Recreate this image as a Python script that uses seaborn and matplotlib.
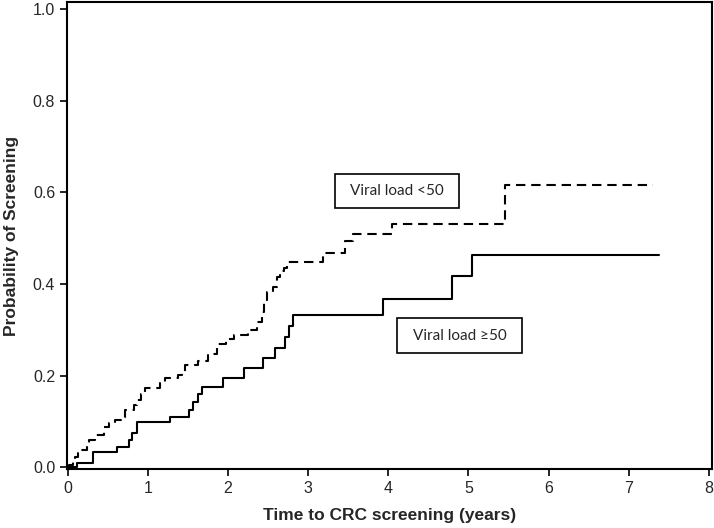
import matplotlib
matplotlib.use("Agg")
import matplotlib.pyplot as plt
from matplotlib.patches import Rectangle
import seaborn as sns
import pandas as pd

# Kaplan-Meier style step data
low_time = [0, 0.02, 0.06, 0.09, 0.13, 0.16, 0.24, 0.26, 0.34, 0.45, 0.51, 0.59, 0.67,
            0.72, 0.83, 0.86, 0.91, 0.96, 1.15, 1.21, 1.38, 1.42, 1.46, 1.63, 1.75, 1.86,
            1.98, 2.08, 2.25, 2.36, 2.42, 2.45, 2.49, 2.56, 2.61, 2.65, 2.70, 2.73, 3.18,
            3.46, 3.56, 4.04, 5.46, 7.30]
low_prob = [0, 0.004, 0.013, 0.022, 0.030, 0.037, 0.048, 0.059, 0.070, 0.088, 0.097, 0.103,
            0.109, 0.124, 0.135, 0.146, 0.160, 0.172, 0.183, 0.194, 0.201, 0.207, 0.224, 0.231,
            0.248, 0.269, 0.280, 0.288, 0.299, 0.317, 0.339, 0.365, 0.383, 0.393, 0.415, 0.427,
            0.435, 0.448, 0.468, 0.493, 0.508, 0.530, 0.616, 0.616]

high_time = [0, 0.12, 0.32, 0.62, 0.76, 0.80, 0.86, 1.27, 1.51, 1.56, 1.62, 1.68, 1.94,
             2.20, 2.43, 2.59, 2.71, 2.76, 2.81, 3.93, 4.79, 5.04, 7.38]
high_prob = [0, 0.010, 0.034, 0.043, 0.059, 0.074, 0.098, 0.109, 0.124, 0.142, 0.159, 0.175,
             0.195, 0.217, 0.238, 0.260, 0.283, 0.308, 0.333, 0.366, 0.417, 0.463, 0.463]

groups = ["Viral load <50", "Viral load \u226550"]
x_ticks = [0, 1, 2, 3, 4, 5, 6, 7, 8]
y_ticks = [0.0, 0.2, 0.4, 0.6, 0.8, 1.0]

df = pd.concat([
    pd.DataFrame({"time": low_time, "prob": low_prob, "group": groups[0]}),
    pd.DataFrame({"time": high_time, "prob": high_prob, "group": groups[1]}),
], ignore_index=True)

sns.set_style("white")
plt.rcParams["font.family"] = ["Liberation Sans", "DejaVu Sans"]

fig = plt.figure(figsize=(7.14, 5.28), dpi=100)
W, H = 714, 528
ax = fig.add_axes([67 / W, (H - 469) / H, (712 - 67) / W, (469 - 2) / H])

sns.lineplot(data=df, x="time", y="prob", style="group", style_order=groups,
             dashes={groups[0]: (4.5, 2.8), groups[1]: ""},
             color="black", linewidth=1.5, drawstyle="steps-post",
             estimator=None, sort=False, legend=False, ax=ax)

ax.set_xlim(-0.01, 8.04)
ax.set_ylim(-0.004, 1.015)
ax.set_xticks(x_ticks)
ax.set_xticklabels([str(v) for v in x_ticks])
ax.set_yticks(y_ticks)
ax.set_yticklabels([f"{v:.1f}" for v in y_ticks])
ax.tick_params(direction="out", length=5, width=1.2, color="black",
               labelsize=11.5, pad=3.5, bottom=True, left=True)
for s in ax.spines.values():
    s.set_color("black")
    s.set_linewidth(1.5)

ax.set_xlabel("Time to CRC screening (years)", fontsize=12.5, fontweight="bold", labelpad=9)
ax.set_ylabel("Probability of Screening", fontsize=12.5, fontweight="bold", labelpad=10)

# annotation boxes (pixel geometry converted to data coordinates)
def px2data(xp, yp):
    return ((xp - 68) / 80.1, (467 - yp) / 458)

for label, (x0p, y0p, x1p, y1p) in zip(groups, [(335, 174, 459, 208), (397, 318, 522, 353)]):
    xa, ya = px2data(x0p, y1p)
    xb, yb = px2data(x1p, y0p)
    ax.add_patch(Rectangle((xa, ya), xb - xa, yb - ya, fill=False,
                           edgecolor="black", linewidth=1.2))
    ax.text((xa + xb) / 2, (ya + yb) / 2, label, ha="center", va="center",
            fontsize=11, family=["Lato", "DejaVu Sans"])

fig.savefig("out.png", dpi=100)
